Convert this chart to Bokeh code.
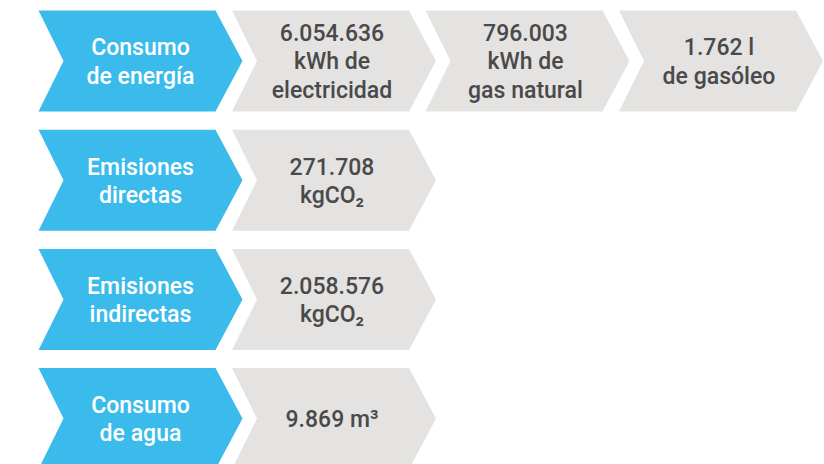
from bokeh.plotting import figure
from bokeh.models import Range1d, ColumnDataSource
from bokeh.core.properties import value
from bokeh.embed import file_html
from bokeh.resources import INLINE

# ---- data ----
row_labels = ["Consumo\nde energía", "Emisiones\ndirectas", "Emisiones\nindirectas", "Consumo\nde agua"]
row_values = [
    ["6.054.636\nkWh de\nelectricidad", "796.003\nkWh de\ngas natural", "1.762 l\nde gasóleo"],
    ["271.708\nkgCO\u2082"],
    ["2.058.576\nkgCO\u2082"],
    ["9.869 m\u00b3"],
]

# ---- layout constants (screen pixels) ----
W, H = 824, 464
X0, DX = 38, 193.5
Y0, DY = 10, 119.2
CH = 101          # chevron height
TOPW = 177        # straight top edge length
TIP = 204         # x offset of the tip
NOTCH = 25        # x offset of the notch
BLUE = "#3BBBEC"
GREY = "#E4E3E2"
TXT = "#4A4A4A"
FONT = "'Roboto Medium', Roboto"
FS = "23px"
LH = 1.04

p = figure(width=W, height=H, output_backend="svg", toolbar_location=None,
           x_range=Range1d(0, W), y_range=Range1d(H, 0),
           min_border=0, outline_line_color=None)
p.axis.visible = False
p.grid.visible = False
p.background_fill_color = "white"
p.border_fill_color = "white"


def chevron(col, row):
    x = X0 + DX * col
    y = Y0 + DY * row
    xs = [x, x + TOPW, x + TIP, x + TOPW, x, x + NOTCH]
    ys = [y, y, y + CH / 2, y + CH, y + CH, y + CH / 2]
    return xs, ys


bx, by, gx, gy = [], [], [], []
lx, ly, lt = [], [], []
vx, vy, vt = [], [], []
for r, (lab, vals) in enumerate(zip(row_labels, row_values)):
    xs, ys = chevron(0, r)
    bx.append(xs); by.append(ys)
    lx.append(X0 + 102); ly.append(Y0 + DY * r + CH / 2 + 1); lt.append(lab)
    for c, v in enumerate(vals, start=1):
        xs, ys = chevron(c, r)
        gx.append(xs); gy.append(ys)
        vx.append(X0 + DX * c + 100); vy.append(Y0 + DY * r + CH / 2 + 1); vt.append(v)

p.patches(bx, by, fill_color=BLUE, line_color=None)
p.patches(gx, gy, fill_color=GREY, line_color=None)

p.text(x="x", y="y", text="t", source=ColumnDataSource(dict(x=lx, y=ly, t=lt)),
       text_align="center", text_baseline="middle", text_color="white",
       text_font=value(FONT), text_font_size=FS, text_line_height=LH)
p.text(x="x", y="y", text="t", source=ColumnDataSource(dict(x=vx, y=vy, t=vt)),
       text_align="center", text_baseline="middle", text_color=TXT,
       text_font=value(FONT), text_font_size=FS, text_line_height=LH)

open("out.html", "w").write(file_html(p, INLINE))
